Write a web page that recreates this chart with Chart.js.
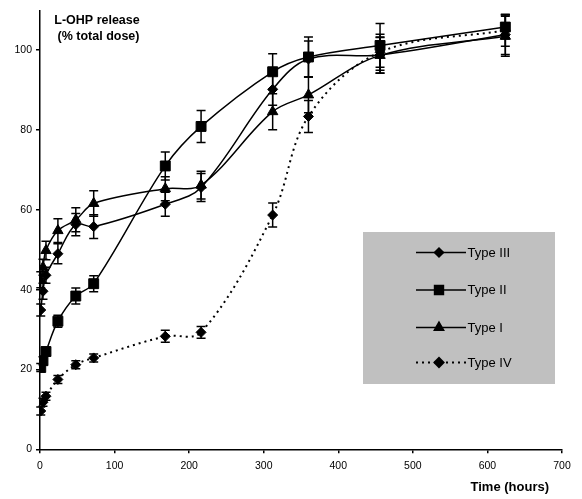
<!DOCTYPE html>
<html>
<head>
<meta charset="utf-8">
<script src="https://cdn.jsdelivr.net/npm/chart.js@4.4.0/dist/chart.umd.min.js"></script>
<style>
html,body{margin:0;padding:0;background:#fff;}
#wrap{position:relative;width:582px;height:499px;}
</style>
</head>
<body>
<div id="wrap"><canvas id="c" width="582" height="499"></canvas></div>
<script>
const times = [1, 4, 8, 24, 48, 72, 168, 216, 312, 360, 456, 624];
const typeIII = [34.9, 39.6, 43.6, 49.0, 56.3, 55.8, 61.4, 65.6, 90.2, 97.8, 98.8, 103.9];
const typeIIIErr = [1.5, 2, 2, 2.5, 2.8, 3, 3, 3.5, 4, 4.5, 4.5, 5];
const typeII = [20.5, 22.2, 24.5, 32.1, 38.4, 41.5, 71.0, 80.9, 94.6, 98.3, 101.2, 105.8];
const typeIIErr = [1, 1, 1, 1.5, 2, 2, 3.5, 4, 4.5, 5, 5.5, 3];
const typeI = [42.5, 45.6, 49.8, 54.8, 57.5, 61.6, 65.3, 66.2, 84.6, 88.8, 98.7, 103.5];
const typeIErr = [2, 2, 2.3, 3, 3, 3.2, 3, 3.5, 4.5, 4.5, 4.5, 5];
const typeIV = [9.6, 11.8, 13.3, 17.5, 21.2, 22.9, 28.3, 29.3, 58.7, 83.4, 99.5, 105.0];
const typeIVErr = [1, 1, 1, 1, 1, 1, 1.5, 1.5, 3, 4, 4.5, 4];
const xTicks = [0, 100, 200, 300, 400, 500, 600, 700];
const yTicks = [0, 20, 40, 60, 80, 100];
const seriesNames = ['Type III', 'Type II', 'Type I', 'Type IV'];

function pts(vals){ return times.map((t,i)=>({x:t, y:vals[i]})); }

const FONT = '"Liberation Sans", Arial, sans-serif';

const mk = (label, vals, err, style, radius, dash) => ({
  label, data: pts(vals), err,
  borderColor:'#000', backgroundColor:'#000',
  pointBackgroundColor:'#000', pointBorderColor:'#000',
  pointStyle: style, pointRadius: radius, pointBorderWidth:1,
  borderWidth: dash ? 2 : 1.5, borderDash: dash || [],
  tension: 0.35, fill:false
});

const datasets = [
  mk(seriesNames[0], typeIII, typeIIIErr, 'rectRot', 5),
  mk(seriesNames[1], typeII, typeIIErr, 'rect', 7),
  mk(seriesNames[2], typeI, typeIErr, 'triangle', 6),
  mk(seriesNames[3], typeIV, typeIVErr, 'rectRot', 5, [2,4])
];

const errorBars = {
  id:'errorBars',
  afterDatasetsDraw(chart){
    const ctx = chart.ctx, ys = chart.scales.y;
    ctx.save();
    ctx.strokeStyle = '#000'; ctx.lineWidth = 1.5; ctx.setLineDash([]);
    chart.data.datasets.forEach((ds, di) => {
      const meta = chart.getDatasetMeta(di);
      meta.data.forEach((p, i) => {
        const v = ds.data[i].y, e = ds.err[i];
        const y1 = ys.getPixelForValue(v + e), y2 = ys.getPixelForValue(v - e);
        ctx.beginPath();
        ctx.moveTo(p.x, y1); ctx.lineTo(p.x, y2);
        ctx.moveTo(p.x - 4.5, y1); ctx.lineTo(p.x + 4.5, y1);
        ctx.moveTo(p.x - 4.5, y2); ctx.lineTo(p.x + 4.5, y2);
        ctx.stroke();
      });
    });
    ctx.restore();
  }
};

const extras = {
  id:'extras',
  afterDraw(chart){
    const ctx = chart.ctx;
    ctx.save();
    ctx.fillStyle = '#000';
    ctx.font = 'bold 12.5px ' + FONT;
    ctx.textAlign = 'center'; ctx.textBaseline = 'alphabetic';
    ctx.fillText('L-OHP release', 97, 24);
    ctx.fillText('(% total dose)', 98.5, 40);
    ctx.font = 'bold 13px ' + FONT;
    ctx.textAlign = 'right';
    ctx.fillText('Time (hours)', 549, 491);
    // legend
    ctx.fillStyle = '#C0C0C0';
    ctx.fillRect(363, 232, 192, 152);
    const rows = [252.5, 290, 327.5, 362.5];
    chart.data.datasets.forEach((ds, i) => {
      const y = rows[i];
      ctx.strokeStyle = '#000';
      ctx.lineWidth = ds.borderWidth;
      ctx.setLineDash(ds.borderDash);
      ctx.beginPath(); ctx.moveTo(416, y); ctx.lineTo(466, y); ctx.stroke();
      ctx.setLineDash([]);
      Chart.helpers.drawPoint(ctx, {pointStyle: ds.pointStyle, radius: ds.pointRadius * 0.9, borderWidth: 1}, 439, y);
      ctx.fillStyle = '#000';
      ctx.fill();
      ctx.font = '13px ' + FONT;
      ctx.textAlign = 'left'; ctx.textBaseline = 'middle';
      ctx.fillText(ds.label, 467.5, y + 0.5);
    });
    ctx.restore();
  }
};

new Chart(document.getElementById('c'), {
  type:'line',
  data:{ datasets },
  options:{
    responsive:false, animation:false,
    layout:{ padding:{ top:7, right:20, left:0, bottom:0 } },
    plugins:{ legend:{display:false}, tooltip:{enabled:false} },
    scales:{
      x:{
        type:'linear', min:0, max:700,
        afterBuildTicks(s){ s.ticks = xTicks.map(v=>({value:v})); },
        afterFit(s){ s.height = 49.7; },
        grid:{ drawOnChartArea:false, drawTicks:true, tickLength:4, color:'#000', lineWidth:1.5 },
        border:{ display:true, color:'#000', width:1.5 },
        ticks:{ color:'#000', font:{ family:FONT, size:10.5 }, padding:7, maxRotation:0 }
      },
      y:{
        type:'linear', min:0, max:110,
        afterBuildTicks(s){ s.ticks = yTicks.map(v=>({value:v})); },
        afterFit(s){ s.width = 40; },
        grid:{ drawOnChartArea:false, drawTicks:true, tickLength:4, color:'#000', lineWidth:1.5 },
        border:{ display:true, color:'#000', width:1.5 },
        ticks:{ color:'#000', font:{ family:FONT, size:10.5 }, padding:4 }
      }
    }
  },
  plugins:[errorBars, extras]
});
</script>
</body>
</html>
